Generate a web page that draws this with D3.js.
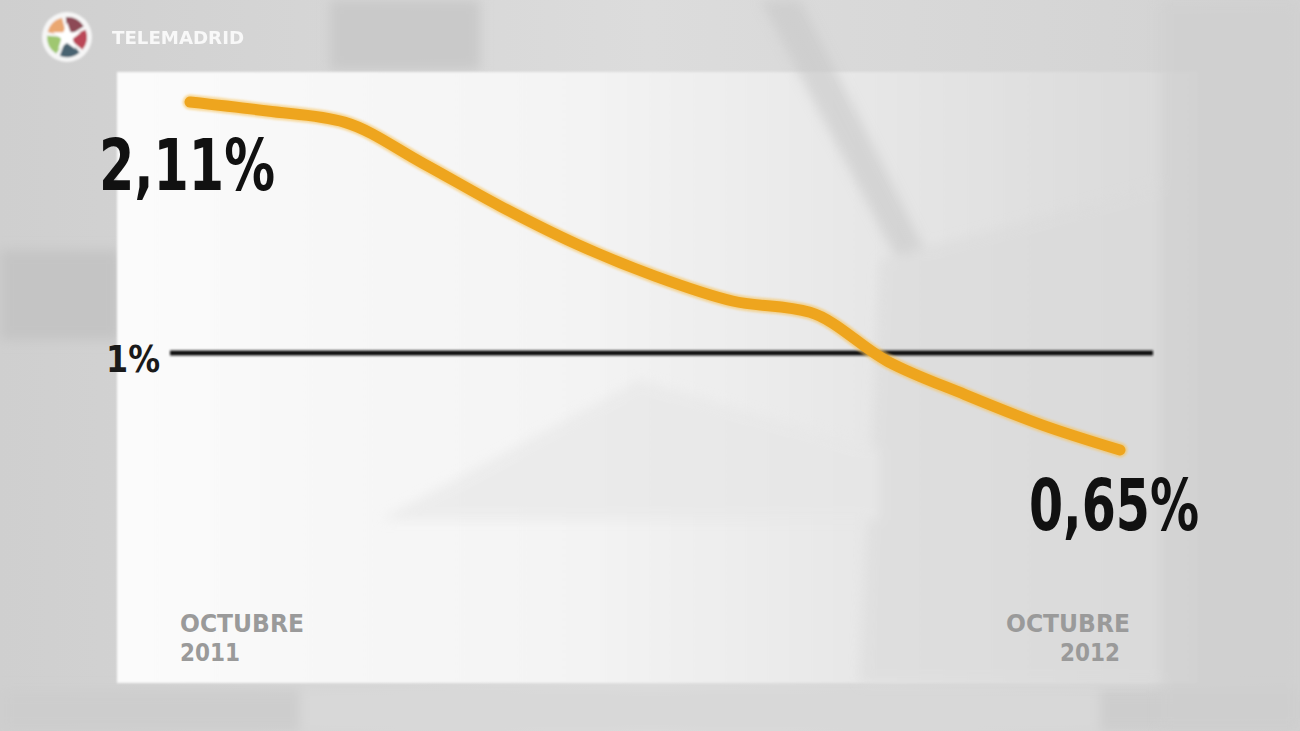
<!DOCTYPE html>
<html><head><meta charset="utf-8">
<script src="https://cdn.jsdelivr.net/npm/d3@7"></script>
<style>
html,body{margin:0;padding:0;background:#d4d4d4;overflow:hidden}
svg{display:block}
</style></head>
<body>
<svg id="c" width="1300" height="731"></svg>
<script>
// Data
const months = ["oct-2011","nov-2011","dic-2011","ene-2012","feb-2012","mar-2012","abr-2012","may-2012","jun-2012","jul-2012","ago-2012","sep-2012","oct-2012"];
const values = [2.11, 2.07, 2.02, 1.84, 1.65, 1.48, 1.34, 1.23, 1.18, 0.97, 0.85, 0.74, 0.65];
const refValue = 1;
const refLabel = "1%";
const startLabel = "2,11%";
const endLabel = "0,65%";
const startDate = ["OCTUBRE", "2011"];
const endDate = ["OCTUBRE", "2012"];
const brand = "TELEMADRID";

const svg = d3.select("#c");
const defs = svg.append("defs");

// background gradient
const bg = defs.append("linearGradient").attr("id","bg").attr("x1",0).attr("x2",1).attr("y1",0).attr("y2",0);
bg.append("stop").attr("offset",0).attr("stop-color","#cfcfcf");
bg.append("stop").attr("offset",0.5).attr("stop-color","#dcdcdc");
bg.append("stop").attr("offset",1).attr("stop-color","#d2d2d2");
svg.append("rect").attr("width",1300).attr("height",731).attr("fill","url(#bg)");

// panel gradient
const pg = defs.append("linearGradient").attr("id","pg").attr("x1",0).attr("x2",1).attr("y1",0).attr("y2",0);
pg.append("stop").attr("offset",0).attr("stop-color","#fbfbfb");
pg.append("stop").attr("offset",0.45).attr("stop-color","#f3f3f3");
pg.append("stop").attr("offset",0.75).attr("stop-color","#e4e4e4");
pg.append("stop").attr("offset",1).attr("stop-color","#d9d9d9");

const blur = defs.append("filter").attr("id","blur").attr("x","-20%").attr("y","-20%").attr("width","140%").attr("height","140%");
blur.append("feGaussianBlur").attr("stdDeviation",6);
const soft = defs.append("filter").attr("id","soft").attr("x","-10%").attr("y","-50%").attr("width","120%").attr("height","200%");
soft.append("feGaussianBlur").attr("stdDeviation",0.8);
const glow = defs.append("filter").attr("id","glow").attr("x","-5%").attr("y","-5%").attr("width","110%").attr("height","110%");
glow.append("feGaussianBlur").attr("stdDeviation",1.2);

// faint background shapes (photo backdrop)
const deco = svg.append("g").attr("filter","url(#blur)");
deco.append("rect").attr("x",330).attr("y",0).attr("width",150).attr("height",70).attr("fill","#c9c9c9");
deco.append("rect").attr("x",0).attr("y",250).attr("width",120).attr("height",90).attr("fill","#c4c4c4");
deco.append("rect").attr("x",0).attr("y",690).attr("width",1300).attr("height",41).attr("fill","#cdcdcd");
deco.append("rect").attr("x",300).attr("y",690).attr("width",800).attr("height",41).attr("fill","#d8d8d8");

// panel
svg.append("rect").attr("x",117).attr("y",72).attr("width",1080).attr("height",611).attr("fill","url(#pg)").attr("filter","url(#soft)");

const deco2 = svg.append("g").attr("filter","url(#blur)").attr("opacity",0.6);
deco2.append("path").attr("d","M760,0 L800,0 L930,260 L900,265 Z").attr("fill","#c8c8c8");
deco2.append("path").attr("d","M880,260 L1180,180 L1200,683 L860,683 Z").attr("fill","#dadada");
deco2.append("path").attr("d","M380,520 L640,380 L880,450 L880,520 Z").attr("fill","#e6e6e6");
deco2.append("rect").attr("x",1160).attr("y",0).attr("width",140).attr("height",731).attr("fill","#cfcfcf");

// scales
const x = d3.scalePoint().domain(months).range([190, 1120]);
const y = d3.scaleLinear().domain([0.65, refValue, 2.11]).range([450, 353, 102]);

const font = "'Liberation Sans Narrow','DejaVu Sans Condensed','Roboto Condensed',sans-serif";

// reference line
svg.append("rect").attr("x",170).attr("width",983).attr("y",y(refValue)-2.5).attr("height",5)
  .attr("fill","#111").attr("filter","url(#soft)");
svg.append("text").attr("x",106).attr("y",y(refValue)+19).text(refLabel)
  .attr("font-family",font).attr("font-weight","bold").attr("font-size",38).attr("fill","#1a1a1a")
  .attr("textLength",54).attr("lengthAdjust","spacingAndGlyphs");

// series line
const line = d3.line().x((d,i)=>x(months[i])).y(d=>y(d)).curve(d3.curveMonotoneX);
svg.append("path").datum(values).attr("d",line).attr("fill","none")
  .attr("stroke","#f7c35a").attr("stroke-width",15).attr("stroke-linecap","round").attr("stroke-linejoin","round")
  .attr("opacity",0.6).attr("filter","url(#glow)");
svg.append("path").datum(values).attr("d",line).attr("fill","none")
  .attr("stroke","#eea51e").attr("stroke-width",11).attr("stroke-linecap","round").attr("stroke-linejoin","round");

// value labels
svg.append("text").attr("x",99).attr("y",190).text(startLabel)
  .attr("font-family",font).attr("font-weight","bold").attr("font-size",72).attr("fill","#111")
  .attr("textLength",176).attr("lengthAdjust","spacingAndGlyphs");
svg.append("text").attr("x",1029).attr("y",530).text(endLabel)
  .attr("font-family",font).attr("font-weight","bold").attr("font-size",72).attr("fill","#111")
  .attr("textLength",170).attr("lengthAdjust","spacingAndGlyphs");

// date labels
const dateStyle = s => s.attr("font-family",font).attr("font-weight","bold").attr("font-size",25).attr("fill","#9a9a9a");
dateStyle(svg.append("text").attr("x",180).attr("y",632).text(startDate[0]).attr("textLength",124).attr("lengthAdjust","spacingAndGlyphs"));
dateStyle(svg.append("text").attr("x",180).attr("y",661).text(startDate[1]).attr("textLength",60).attr("lengthAdjust","spacingAndGlyphs"));
dateStyle(svg.append("text").attr("x",1006).attr("y",632).text(endDate[0]).attr("textLength",124).attr("lengthAdjust","spacingAndGlyphs"));
dateStyle(svg.append("text").attr("x",1060).attr("y",661).text(endDate[1]).attr("textLength",60).attr("lengthAdjust","spacingAndGlyphs"));

// logo
const logo = svg.append("g").attr("transform","translate(67,37)").attr("filter","url(#soft)");
logo.append("circle").attr("r",25).attr("fill","#ffffff").attr("opacity",0.8);
const cols = ["#8fbf5a","#e89a5a","#7a2a3a","#b0283c","#2c4a5a"];
cols.forEach((c,i)=>{
  const a0 = -Math.PI/2 - Math.PI*0.35 + i*2*Math.PI/5;
  const arc = d3.arc().innerRadius(6).outerRadius(20).startAngle(a0+0.1).endAngle(a0+2*Math.PI/5-0.1);
  logo.append("path").attr("d",arc()).attr("fill",c).attr("opacity",0.85);
});
const star = d3.range(10).map(i=>{const r = i%2?6:15; const a = -Math.PI/2 + i*Math.PI/5; return [r*Math.cos(a), r*Math.sin(a)];});
logo.append("path").attr("d","M"+star.join("L")+"Z").attr("fill","#ffffff");
svg.append("text").attr("x",112).attr("y",44).text(brand).attr("font-family",font).attr("font-weight","bold")
  .attr("font-size",18).attr("fill","#ffffff").attr("opacity",0.85).attr("textLength",132).attr("lengthAdjust","spacingAndGlyphs");
</script>
</body></html>
